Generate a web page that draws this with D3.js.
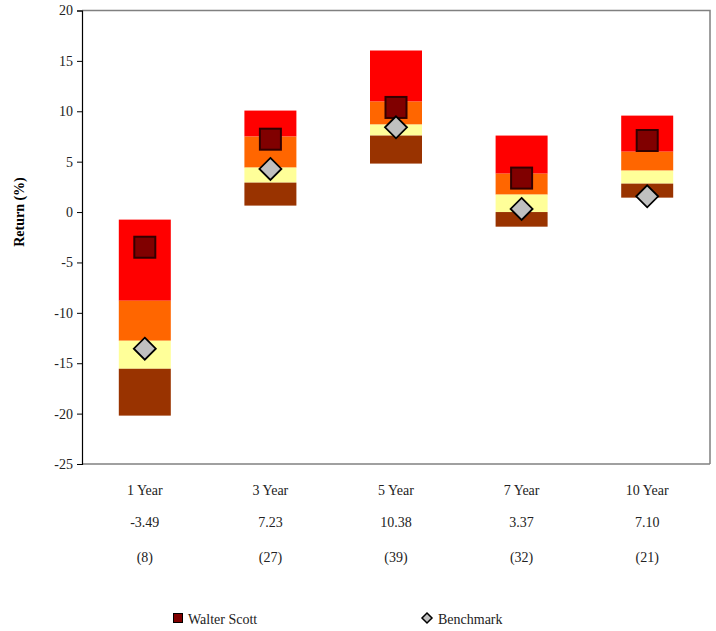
<!DOCTYPE html>
<html>
<head>
<meta charset="utf-8">
<script src="https://cdn.jsdelivr.net/npm/d3@7"></script>
<style>
  html, body { margin: 0; padding: 0; background: #fff; }
  svg { display: block; }
  svg text { font-family: "Liberation Serif", "Times New Roman", "DejaVu Serif", serif !important; }
</style>
</head>
<body>
<svg id="chart" width="716" height="631"></svg>
<script>
// Periods and universe sizes
const periods = ["1 Year", "3 Year", "5 Year", "7 Year", "10 Year"];
const counts = [8, 27, 39, 32, 21];

// Quartile breakpoints (%): top, 25th, median, 75th, bottom
const qTop = [-0.75, 10.07, 16.03, 7.59, 9.57];
const q25 = [-8.8, 7.49, 10.96, 3.81, 5.99];
const qMed = [-12.77, 4.41, 8.68, 1.73, 4.11];
const q75 = [-15.55, 2.92, 7.59, 0.0, 2.82];
const qBottom = [-20.2, 0.64, 4.81, -1.45, 1.43];

// Portfolio and benchmark returns (%)
const walterScott = [-3.49, 7.23, 10.38, 3.37, 7.10];
const benchmark = [-13.56, 4.28, 8.41, 0.31, 1.56];

const yTicks = [20, 15, 10, 5, 0, -5, -10, -15, -20, -25];
const quartileColors = ["#ff0000", "#ff6600", "#ffff99", "#993300"];

const serif = "Liberation Serif, Times New Roman, DejaVu Serif, serif";
const svg = d3.select("#chart").attr("font-family", serif);
const plotLeft = 82, plotRight = 710, plotTop = 10.5, plotBottom = 464;

const x = d3.scaleBand().domain(periods).range([plotLeft, plotRight]).paddingInner(0.586).paddingOuter(0.293);
const y = d3.scaleLinear().domain([-25, 20]).range([plotBottom, plotTop]);

// plot frame (top and right)
svg.append("path")
  .attr("d", `M${plotLeft},${plotTop}H${plotRight}V${plotBottom}`)
  .attr("fill", "none").attr("stroke", "#808080").attr("stroke-width", 1.5);

// bottom axis line
svg.append("line")
  .attr("x1", plotLeft).attr("x2", plotRight).attr("y1", plotBottom).attr("y2", plotBottom)
  .attr("stroke", "#808080").attr("stroke-width", 1.5);

// floating quartile bars
const bands = [qTop, q25, qMed, q75, qBottom];
periods.forEach((p, i) => {
  for (let k = 0; k < 4; k++) {
    const hi = bands[k][i], lo = bands[k + 1][i];
    svg.append("rect")
      .attr("x", x(p)).attr("width", x.bandwidth())
      .attr("y", y(hi)).attr("height", y(lo) - y(hi))
      .attr("fill", quartileColors[k]);
  }
});

// y axis
const yAxis = d3.axisLeft(y).tickValues(yTicks).tickSize(5).tickPadding(4).tickFormat(d => String(d));
const ga = svg.append("g").attr("transform", `translate(${plotLeft},0)`).call(yAxis)
  .attr("font-family", serif);
ga.select(".domain").attr("stroke", "#000").attr("stroke-width", 1.2);
ga.selectAll(".tick line").attr("stroke", "#000");
ga.selectAll(".tick text").attr("font-size", 14).attr("fill", "#222");

svg.append("text")
  .attr("transform", `translate(24,${y(0)}) rotate(-90)`)
  .attr("text-anchor", "middle")
  .attr("font-size", 14).attr("font-weight", "bold").attr("fill", "#000")
  .text("Return (%)");

// markers
const cx = p => x(p) + x.bandwidth() / 2;
const sq = 21;
svg.selectAll("rect.ws").data(periods).join("rect")
  .attr("class", "ws")
  .attr("x", p => cx(p) - sq / 2)
  .attr("y", (p, i) => y(walterScott[i]) - sq / 2)
  .attr("width", sq).attr("height", sq)
  .attr("fill", "#800000").attr("stroke", "#330000").attr("stroke-width", 2);

const dm = 11;
svg.selectAll("path.bm").data(periods).join("path")
  .attr("class", "bm")
  .attr("d", (p, i) => {
    const X = cx(p), Y = y(benchmark[i]);
    return `M${X},${Y - dm}L${X + dm},${Y}L${X},${Y + dm}L${X - dm},${Y}Z`;
  })
  .attr("fill", "#c0c0c0").attr("stroke", "#000").attr("stroke-width", 1.8);

// category table under the plot
const rows = [
  { yPos: 495, f: (p, i) => p },
  { yPos: 527, f: (p, i) => walterScott[i].toFixed(2) },
  { yPos: 562, f: (p, i) => `(${counts[i]})` }
];
rows.forEach(r => {
  svg.selectAll(null).data(periods).join("text")
    .attr("x", p => cx(p)).attr("y", r.yPos)
    .attr("text-anchor", "middle").attr("font-size", 14).attr("fill", "#222")
    .text(r.f);
});

// legend
svg.append("rect").attr("x", 173.5).attr("y", 613.5).attr("width", 9).attr("height", 9)
  .attr("fill", "#800000").attr("stroke", "#000").attr("stroke-width", 1);
svg.append("text").attr("x", 188).attr("y", 624).attr("font-size", 14).attr("fill", "#222").text("Walter Scott");

svg.append("path")
  .attr("d", "M427,613L432,618L427,623L422,618Z")
  .attr("fill", "#c0c0c0").attr("stroke", "#000").attr("stroke-width", 1.5);
svg.append("text").attr("x", 438).attr("y", 624).attr("font-size", 14).attr("fill", "#222").text("Benchmark");
</script>
</body>
</html>
